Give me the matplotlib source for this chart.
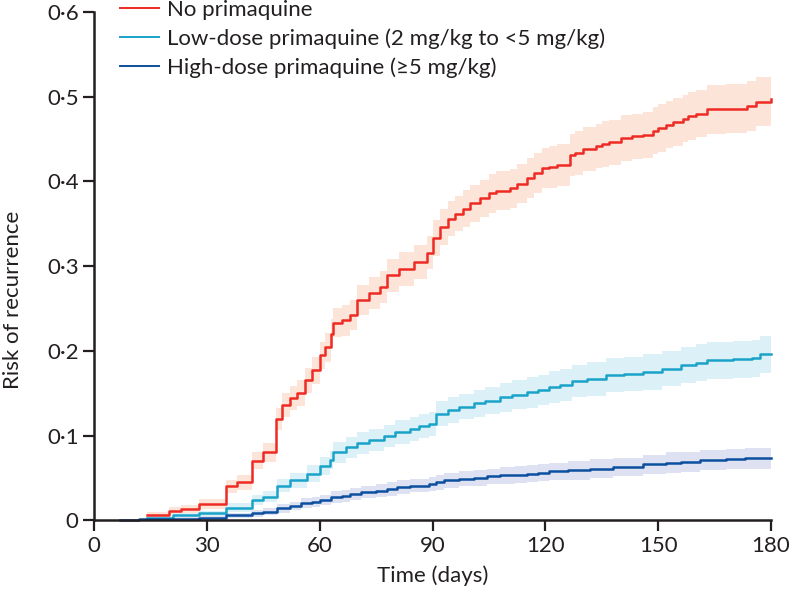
import matplotlib
matplotlib.use("Agg")
import matplotlib.pyplot as plt
from matplotlib.ticker import FixedLocator

plt.rcParams['font.family'] = ['Lato', 'DejaVu Sans']

# no primaquine
none_t = [14, 20, 23, 28, 35, 38, 42, 45, 48.5, 50,
          52, 54, 56, 58, 60, 61.5, 63, 63.5, 66, 68,
          70, 73, 76, 78, 81, 85, 88.5, 90, 92, 94,
          96, 98, 100, 102.5, 105, 107, 110.5, 112.5, 115, 117,
          119, 121, 123, 126.5, 128, 130, 133.5, 135, 137, 140,
          143, 146, 148.5, 150, 152, 154, 156.5, 158, 160, 163,
          168, 173.5, 176, 180]
none_v = [0.006, 0.011, 0.013, 0.019, 0.040, 0.045, 0.070, 0.080, 0.120, 0.136,
          0.144, 0.150, 0.165, 0.177, 0.195, 0.204, 0.220, 0.233, 0.236, 0.242,
          0.260, 0.268, 0.275, 0.289, 0.297, 0.305, 0.316, 0.333, 0.346, 0.356,
          0.362, 0.368, 0.374, 0.380, 0.386, 0.389, 0.392, 0.397, 0.404, 0.410,
          0.416, 0.417, 0.419, 0.431, 0.434, 0.438, 0.442, 0.444, 0.446, 0.451,
          0.453, 0.455, 0.460, 0.463, 0.467, 0.470, 0.474, 0.477, 0.480, 0.485,
          0.486, 0.489, 0.494, 0.497]
none_lo = [0.002, 0.006, 0.008, 0.013, 0.032, 0.036, 0.060, 0.069, 0.107, 0.122,
           0.130, 0.135, 0.150, 0.161, 0.179, 0.187, 0.203, 0.216, 0.218, 0.224,
           0.242, 0.249, 0.256, 0.270, 0.277, 0.285, 0.296, 0.312, 0.325, 0.335,
           0.341, 0.346, 0.352, 0.358, 0.363, 0.366, 0.369, 0.374, 0.380, 0.386,
           0.392, 0.392, 0.394, 0.406, 0.408, 0.412, 0.416, 0.417, 0.419, 0.424,
           0.426, 0.428, 0.432, 0.435, 0.439, 0.442, 0.446, 0.449, 0.452, 0.456,
           0.457, 0.460, 0.465, 0.468]
none_hi = [0.010, 0.016, 0.018, 0.025, 0.048, 0.054, 0.080, 0.091, 0.133, 0.150,
           0.158, 0.165, 0.180, 0.193, 0.211, 0.221, 0.237, 0.250, 0.254, 0.260,
           0.278, 0.287, 0.294, 0.308, 0.317, 0.325, 0.336, 0.354, 0.367, 0.377,
           0.383, 0.390, 0.396, 0.402, 0.409, 0.412, 0.415, 0.420, 0.428, 0.434,
           0.440, 0.442, 0.444, 0.456, 0.460, 0.464, 0.468, 0.471, 0.473, 0.478,
           0.480, 0.482, 0.488, 0.491, 0.495, 0.498, 0.502, 0.505, 0.508, 0.514,
           0.515, 0.518, 0.523, 0.526]

# low-dose primaquine
low_t = [14, 21, 28, 35, 42, 45, 48.7, 52, 56.6, 60,
         62.7, 63.5, 67, 70, 73, 77, 80, 84, 86.5, 89,
         91, 94, 97, 101, 104, 108, 111, 115, 118, 121,
         124, 127, 131, 136, 141, 146, 151, 156, 160, 163,
         170, 175, 177, 180]
low_v = [0.003, 0.006, 0.008, 0.015, 0.024, 0.028, 0.041, 0.047, 0.055, 0.064,
         0.071, 0.080, 0.086, 0.091, 0.095, 0.100, 0.104, 0.108, 0.111, 0.114,
         0.126, 0.130, 0.134, 0.138, 0.141, 0.145, 0.148, 0.151, 0.154, 0.157,
         0.160, 0.164, 0.167, 0.171, 0.173, 0.175, 0.179, 0.183, 0.186, 0.189,
         0.190, 0.191, 0.196, 0.196]
low_lo = [0.001, 0.003, 0.005, 0.010, 0.018, 0.021, 0.033, 0.038, 0.045, 0.053,
          0.060, 0.068, 0.074, 0.078, 0.082, 0.087, 0.090, 0.094, 0.097, 0.100,
          0.111, 0.115, 0.119, 0.122, 0.125, 0.128, 0.131, 0.133, 0.136, 0.138,
          0.141, 0.145, 0.147, 0.151, 0.153, 0.154, 0.158, 0.162, 0.164, 0.167,
          0.168, 0.169, 0.174, 0.174]
low_hi = [0.005, 0.009, 0.011, 0.020, 0.030, 0.035, 0.049, 0.056, 0.065, 0.075,
          0.082, 0.092, 0.098, 0.104, 0.108, 0.113, 0.118, 0.122, 0.125, 0.128,
          0.141, 0.145, 0.149, 0.154, 0.157, 0.162, 0.165, 0.169, 0.172, 0.176,
          0.179, 0.183, 0.187, 0.191, 0.193, 0.196, 0.200, 0.204, 0.208, 0.211,
          0.212, 0.213, 0.218, 0.218]

# high-dose primaquine
high_t = [7, 12, 21, 28, 35, 42, 45, 48.7, 52, 55,
          58, 60, 63, 66, 68, 71, 75, 78, 80.5, 84,
          89, 91, 93, 97, 101, 104.5, 108, 112, 115, 118,
          121, 126, 132, 138, 146, 152, 156, 161, 168, 173,
          177, 180]
high_v = [0.000, 0.001, 0.002, 0.003, 0.006, 0.008, 0.010, 0.014, 0.017, 0.020,
          0.022, 0.024, 0.027, 0.029, 0.031, 0.033, 0.035, 0.037, 0.039, 0.041,
          0.043, 0.045, 0.047, 0.049, 0.050, 0.052, 0.053, 0.054, 0.055, 0.056,
          0.058, 0.059, 0.061, 0.063, 0.066, 0.068, 0.069, 0.071, 0.072, 0.073,
          0.073, 0.074]
high_lo = [0.000, 0.000, 0.000, 0.001, 0.003, 0.004, 0.006, 0.009, 0.012, 0.014,
           0.016, 0.018, 0.020, 0.022, 0.024, 0.026, 0.027, 0.029, 0.031, 0.033,
           0.035, 0.036, 0.038, 0.040, 0.041, 0.043, 0.043, 0.044, 0.045, 0.046,
           0.048, 0.048, 0.050, 0.052, 0.055, 0.056, 0.057, 0.059, 0.060, 0.061,
           0.061, 0.062]
high_hi = [0.000, 0.002, 0.004, 0.005, 0.009, 0.012, 0.014, 0.019, 0.022, 0.026,
           0.028, 0.030, 0.034, 0.036, 0.038, 0.040, 0.043, 0.045, 0.047, 0.049,
           0.051, 0.054, 0.056, 0.058, 0.059, 0.061, 0.063, 0.064, 0.065, 0.066,
           0.068, 0.070, 0.072, 0.074, 0.077, 0.080, 0.081, 0.083, 0.084, 0.085,
           0.085, 0.086]

labels = ["No primaquine",
          "Low-dose primaquine (2 mg/kg to <5 mg/kg)",
          "High-dose primaquine (\u22655 mg/kg)"]
x_ticks = [0, 30, 60, 90, 120, 150, 180]
y_ticks = [0, 0.1, 0.2, 0.3, 0.4, 0.5, 0.6]
y_ticklabels = ["0", "0\u00b71", "0\u00b72", "0\u00b73", "0\u00b74", "0\u00b75", "0\u00b76"]

fig = plt.figure(figsize=(7.9, 5.98), dpi=100)
ax = fig.add_axes([0.119, 0.130, 0.857, 0.850])

series = [
    (none_t, none_v, none_lo, none_hi, '#ee2a24', '#fde4d8'),
    (low_t, low_v, low_lo, low_hi, '#1aa3c9', '#dcf0f8'),
    (high_t, high_v, high_lo, high_hi, '#0b4f9f', '#dde1f2'),
]
for (t, v, lo, hi, c, band), lab in zip(series, labels):
    ax.fill_between(t, lo, hi, step='post', color=band, lw=0)
for (t, v, lo, hi, c, band), lab in zip(series, labels):
    ax.step(t, v, where='post', color=c, lw=1.8, label=lab, clip_on=False)

ax.set_xlim(0, 180)
ax.set_ylim(0, 0.6)
ax.xaxis.set_major_locator(FixedLocator(x_ticks))
ax.set_yticks(y_ticks)
ax.set_yticklabels(y_ticklabels)

for s in ['top', 'right']:
    ax.spines[s].set_visible(False)
for s in ['left', 'bottom']:
    ax.spines[s].set_linewidth(1.8)
    ax.spines[s].set_color('#231f20')
ax.tick_params(direction='out', length=8, width=1.6, colors='#231f20',
               labelsize=16, pad=3)

ax.set_xlabel("Time (days)", fontsize=16, color='#231f20', labelpad=7)
ax.set_ylabel("Risk of recurrence", fontsize=16, color='#231f20')
# the label sits a little below the middle of the axis in the original
ax.yaxis.set_label_coords(-0.105, 0.433)

leg = ax.legend(loc='upper left', bbox_to_anchor=(0.038, 1.024), frameon=False,
                fontsize=16, handlelength=1.76, handletextpad=0.36,
                labelspacing=0.38, borderpad=0, borderaxespad=0)
for line in leg.get_lines():
    line.set_linewidth(1.4)
for txt in leg.get_texts():
    txt.set_color('#231f20')

fig.savefig("out.png", dpi=100)
